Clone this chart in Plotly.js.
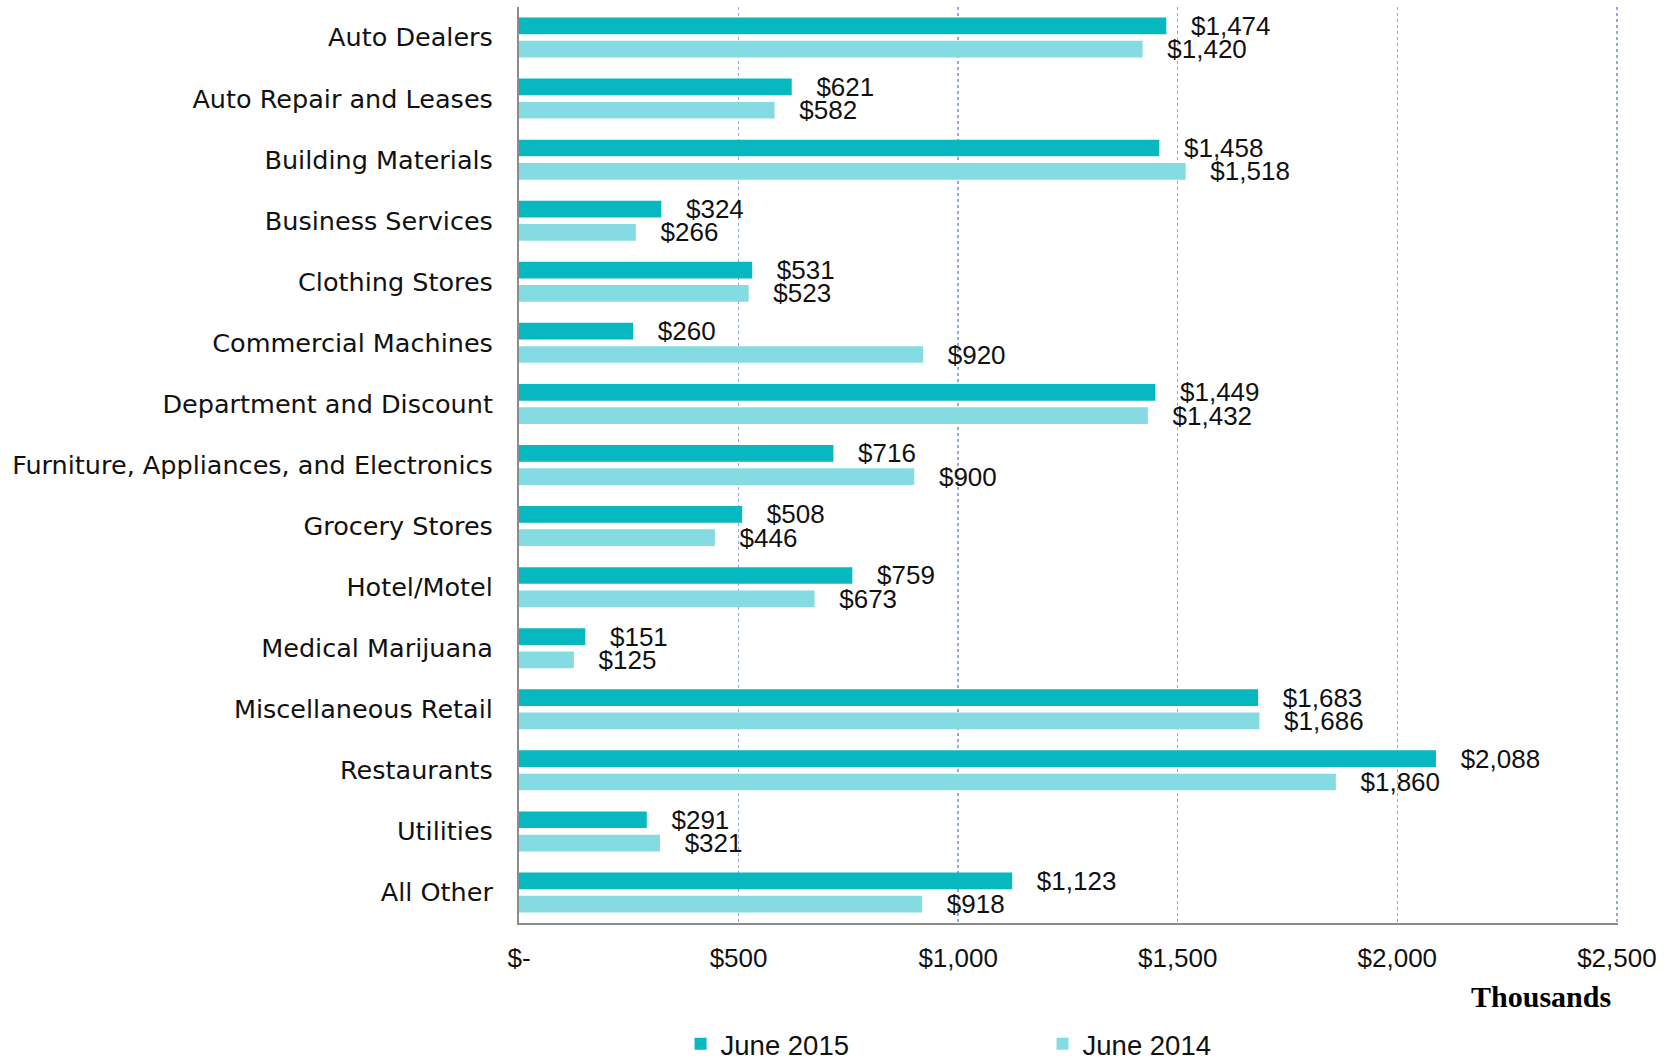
<!DOCTYPE html>
<html>
<head>
<meta charset="utf-8">
<script src="https://cdn.plot.ly/plotly-3.0.1.min.js"></script>
<style>html,body{margin:0;padding:0;background:#fff;}#chart{width:1671px;height:1060px;}</style>
</head>
<body>
<div id="chart"></div>
<script>
const categories = [
  'Auto Dealers', 'Auto Repair and Leases', 'Building Materials', 'Business Services',
  'Clothing Stores', 'Commercial Machines', 'Department and Discount',
  'Furniture, Appliances, and Electronics', 'Grocery Stores', 'Hotel/Motel',
  'Medical Marijuana', 'Miscellaneous Retail', 'Restaurants', 'Utilities', 'All Other'
];
const june2015 = [1474, 621, 1458, 324, 531, 260, 1449, 716, 508, 759, 151, 1683, 2088, 291, 1123];
const june2014 = [1420, 582, 1518, 266, 523, 920, 1432, 900, 446, 673, 125, 1686, 1860, 321, 918];
const seriesNames = ['June 2015', 'June 2014'];
const tickVals = [0, 500, 1000, 1500, 2000, 2500];
const tickText = ['$-', '$500', '$1,000', '$1,500', '$2,000', '$2,500'];
const unitLabel = 'Thousands';

const fmt = v => '\u00A0\u00A0\u00A0$' + v.toLocaleString('en-US');
const labelFont = {family: 'Liberation Sans, Arial, sans-serif', size: 26, color: '#111'};

function barTrace(name, values, color) {
  return {
    type: 'bar', orientation: 'h', name: name,
    y: categories, x: values,
    text: values.map(fmt), textposition: 'outside', cliponaxis: false,
    constraintext: 'none', textfont: labelFont,
    marker: {color: color, line: {width: 0}},
    hoverinfo: 'x+y'
  };
}

const data = [
  barTrace(seriesNames[0], june2015, '#08B8C1'),
  barTrace(seriesNames[1], june2014, '#84DCE2')
];

const layout = {
  width: 1671, height: 1060,
  margin: {l: 519, r: 53, t: 7, b: 137, pad: 0, autoexpand: false},
  paper_bgcolor: '#fff', plot_bgcolor: '#fff',
  barmode: 'group', bargap: 0.237, bargroupgap: 0.283,
  showlegend: true,
  legend: {
    orientation: 'h', x: 0.147, xanchor: 'left', y: -0.132, yanchor: 'middle',
    entrywidth: 317, entrywidthmode: 'pixels', traceorder: 'normal',
    font: {family: 'Liberation Sans, Arial, sans-serif', size: 27.5, color: '#111'},
    bgcolor: 'rgba(0,0,0,0)'
  },
  xaxis: {
    range: [0, 2502.5], tickvals: tickVals, ticktext: tickText,
    showgrid: true, gridcolor: '#8FA8EA', gridwidth: 1.5, griddash: 'dot',
    zeroline: false, showline: true, linecolor: '#8C8C8C', linewidth: 2,
    ticks: 'outside', ticklen: 11, tickcolor: 'rgba(0,0,0,0)',
    tickfont: labelFont, fixedrange: true
  },
  yaxis: {
    type: 'category', autorange: 'reversed',
    showgrid: false, zeroline: false, showline: true, linecolor: '#8C8C8C', linewidth: 2,
    ticks: 'outside', ticklen: 19, tickcolor: 'rgba(0,0,0,0)',
    tickfont: {family: 'DejaVu Sans, sans-serif', size: 25.5, color: '#111'},
    fixedrange: true
  },
  annotations: [{
    text: '<b>' + unitLabel + '</b>', xref: 'paper', yref: 'paper',
    x: 0.93, y: -0.08, xanchor: 'center', yanchor: 'middle', showarrow: false,
    font: {family: 'Liberation Serif, DejaVu Serif, serif', size: 30, color: '#000'}
  }]
};

Plotly.newPlot('chart', data, layout, {displayModeBar: false, staticPlot: true});
</script>
</body>
</html>
